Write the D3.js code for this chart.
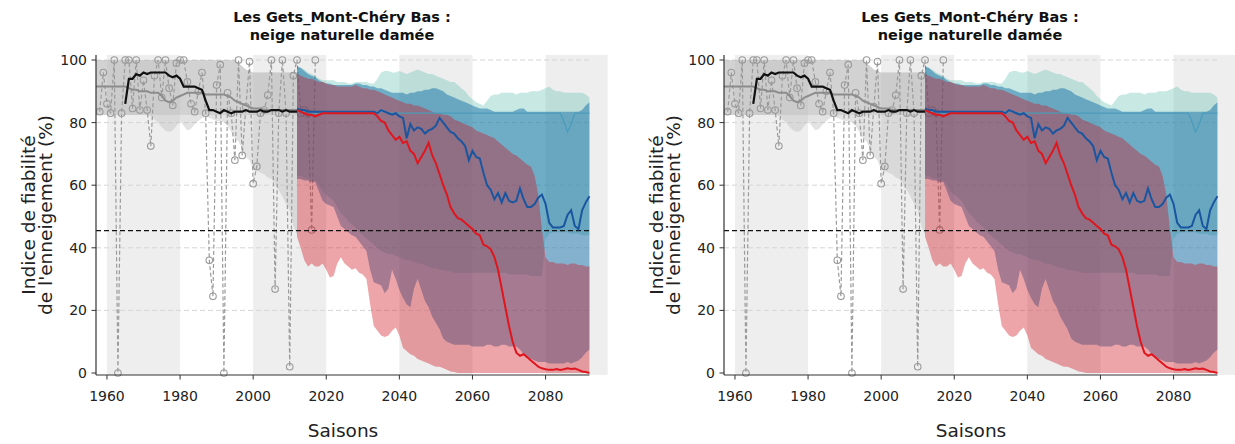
<!DOCTYPE html>
<html><head><meta charset="utf-8">
<script src="https://cdn.jsdelivr.net/npm/d3@7"></script>
<style>body{margin:0;background:#fff}svg{display:block}</style>
</head><body>
<svg id="c" width="1235" height="444"></svg>
<script>
// ---------- texts / ticks ----------
const title1 = "Les Gets_Mont-Chéry Bas :";
const title2 = "neige naturelle damée";
const yLabel1 = "Indice de fiabilité";
const yLabel2 = "de l'enneigement (%)";
const xLabel = "Saisons";
const xTicks = [1960, 1980, 2000, 2020, 2040, 2060, 2080];
const yTicks = [0, 20, 40, 60, 80, 100];
const gridValues = [20, 40, 60, 80, 100];
const threshold = 45.5;
const bandStarts = [1960, 2000, 2040, 2080];
const bandEnds   = [1980, 2020, 2060, 2097];

// ---------- historical (1957-2012) ----------
const histStart = 1957;
const histHi = [100,100,100,100,100,100,100,100,100,100, 100,100,100,100,100,100,100,100,100,100,
  100,100,100,100,100,100,100,100,100,100, 100,100,100,100,100,100,100,100,100,99,
  98,97,96.5,96,96,96,96,96,96,96, 96,96,96,96,96,96];
const histLoA = [82.4,82.4,82.4,82.4,82.4,82.4,82.4,82.4,82.4,82.4, 82.4,82.4,82.4,82.4,82.4,82.4,82.4,82.4,82.4,82.4,
  82.4,82.4,82.4,82.4,82.4,82.4,82.4,82.4,82.4,82.4, 82.4,82.4,82.4,82.4,82.4,82.4,82.4,82.4,82.4,82.4,
  82.4,82.4,82.4,82.4,82.4,82.4,82.4,82.4,82.4,82.4, 82.4,82.4,82.4,82.4,82.4,82.4];
const histLoB = [82.4,82.4,82.4,82.4,82.4,82.4,82.4,82.4,82.4,82.4, 82.4,82.4,82.4,82.4,82.4,82,81,80,78.5,77.5,
  77,77.5,79,80.5,79,77.5,78,79.5,80.5,81.5, 82,81.5,81,80.5,80.5,80,79,77,75,74,
  71.5,69,68,65,64.5,64,63.5,62.5,62,60.5, 58.5,56.5,54,52,47,44];
const histGrey = [91.5,91.5,91.5,91.5,91.5,91.5,91.5,91.5,91.5,91, 90.5,90.5,90,90,90,89.5,89.5,89.5,88.5,87,
  86.5,87,88,88.5,89,89.5,89.5,89.5,89.5,89.5, 89,89,89,89,89,89,88.5,88,87,86.5,
  86,85.5,85,84.5,84.5,84.5,84,84,84,84, 84,84,84,84,84,84];
const blackStart = 1965;
const histBlack = [86,94,94,95.5,95,96,95.5,96,96,96, 96,96,95,94.5,95,94,91.5,91.5,91.5,91.5,
  91,90.5,87,84,84,83.5,83,84,83.5,83, 83.5,83.5,83.5,84,83.5,83.5,83.5,84,83.5,83.5,
  84,84,84,83.5,84,83.5,83.5,83.5];
const obsStart = 1958;
const obsValues = [83.5,96,86,83,100,0,83,100,100,84.5, 100,84,93.5,84,72.5,95,100,88,100,91,
  85.5,99,100,100,93,86,83.5,90,96,83, 36,24.5,92,98.5,0,89.5,83,68,100,69.5,
  85,99.5,60.5,66,83,84,88.8,100,26.8,83, 100,83,2,95,100,83,84,83,45.7,100];

// ---------- projections (2012-2092) ----------
const futStart = 2012;
const tealHi = [97.5,97.5,97,96,95.5,95,94,93.5,93.5,93.5, 93.5,93,93,93,92.5,92.5,93,93,93,93,
  92.5,92.5,94,96,96.5,96.5,96,96,96.5,96, 95.5,96,96.5,97,96.5,96,95.5,95.5,95,94.5,
  94,93.5,93,93,92,91,90,88.5,87.5,86.5, 86,85.5,87,88.5,89,89,89.5,89.5,89.5,89.5,
  89,89.5,89.5,89.5,90,90,90,90.5,91,91.5, 90.5,90,90,89.5,89.5,89.5,89.5,89.5,89.5,89,88];
const tealLo = [63,63,62.5,62,62,61.5,60,58,57,56, 55,53,51,50,48.5,47.5,46.5,45,44,43,
  42,41,40,39,38.5,38,38,37.5,37,36.5, 36,36,35.5,35,35,34.5,34,33.5,33.5,33,
  33,32.5,32.5,32,32,32,32,32,32,32, 32,32,32,32,32,32,32,32,31.5,31.5,
  31.5,31.5,31.5,31.5,31,31,31,31,43,44.5, 45,45,45,45,45,44.5,44.5,44.5,44,44,44];
const tealMed = [84,84,83.5,83.5,83,83,83,83,83,83, 83,83,83,83,83,83,83,83,83,83,
  83,83,83.5,83.5,83.5,83,83,83,83,83, 83,83,83,83,83,83,83,83,83,83,
  83,83,83,83,83,83,83,83,83,83, 83,83,83,83,83,83,83,83,83,83,
  83,83,83,83,83,83,83,83,83,83, 83,83,83,80.5,77,79.5,83,83,83,83,83];
const blueHi = [98,97.5,96.5,95.5,95,94.5,93.5,93,92.5,92.5, 92,92,92,92,92,92,92.5,92.5,92,92,
  91.5,91.5,91,91,90.5,90,89.5,89.5,89.5,89.5, 89,89.5,89.5,90,90,90.5,90.5,91,91,90.5,
  90,89,88.5,88,87.5,87,86.5,86,85.5,85, 84.5,84.5,84.5,84,83.5,83.5,83.5,83.5,83.5,83.5,
  84,84.5,84.5,83.5,83.5,83.5,83.5,83.5,83.5,83.5, 83.5,83.5,83.5,83.5,83.5,83.5,83.5,83.5,84,85.5,86.5];
const blueLo = [62,62,61.5,61.5,61,61,58,55,54,53.5, 53,50,47,46,45,44,43.5,42,40.5,39,
  33,29,28.5,28,25.5,27,33,30,26.5,24, 22,21,27,30,26.5,23,21,18,16,14,
  11,10,9.5,9,9,9,9,9,8.5,8.5, 8.5,8.5,9,9,8.5,8.5,9,9,8.5,8.5,
  8.5,7.5,6,5,4.5,4,3.5,3.5,3.5,3, 3,3,3,3,3.5,3,3.5,4,5,6.5,7.5];
const blueMed = [84.5,84,84,83.5,83.5,83.5,83.5,83.5,83.5,83.5, 83.5,83.5,83.5,83.5,83.5,83.5,83.5,83.5,83.5,83.5,
  83.5,83.5,83,84,83.5,83,82.5,83,82,81.5, 75,79.5,77.5,78.5,78,76.5,77.5,78,79,81.5,
  80,78.5,77,76.5,75,74,72.5,68,71,69, 68.5,64,60,58.5,55.5,57.5,54.5,57.5,55,54.5,
  55,59,55.5,53,53,54,56,57,54,48, 46.5,46.5,46.5,47,50.5,52,47,46,52,54.5,56.5];
const redHi = [95.5,95,94.5,94,94,93.5,93,93,92.5,92, 92,91.5,91.5,91.5,91.5,91.5,92,91.5,91,91,
  90.5,90.5,90,89.5,89,88.5,88,87.5,87,86.5, 86,86,85.5,85.5,85,84.5,84,83.5,83,83,
  82.5,82.5,82,81,80.5,80,79.5,79,78.5,77.5, 77,76.5,76,75.5,75,74,73,72,71,70,
  69.5,68.5,67.5,66.5,66,63,57,46,37,35.5, 35.5,35,35,35,34.5,35,35,34.5,34.5,34,34];
const redLo = [43.5,40,36,34,35,34,34,35,33,30.5, 31,35,37,35,34,33,33.5,32,31.5,30,
  22,15,13.5,12,11.5,12,13.5,14.5,12,8, 7,6,5.5,4.5,4,3.5,3,2.5,2,2,
  1.5,1,0.5,0.3,0,0,0,0,0,0, 0,0,0,0,0,0,0,0,0,0,
  0,0,0,0,0,0,0,0,0,0, 0,0,0,0,0,0,0,0,0,0,0];
const redMed = [84,83.5,83,82.5,82.5,82,82.5,83,83,83, 83,83,83,83,83,83,83,83,83,83,
  83,83,82,80.5,80,77.5,76,74.5,75.5,73.5, 74,71,70,67,69,71,73.5,69.5,67,63.5,
  60,57,53,51,49.5,49,48,47,46,44.5, 44,41,40.5,39.5,37,33,27,21,15,10,
  6.5,5.5,6,5,4,3,2,1.5,1.2,1, 1,1.3,1,1.2,1.5,1.3,1.4,1,0.5,0.3,0];

// ---------- layout ----------
const panelOffsets = [0, 628];
const svg = d3.select("#c");
const FONT = "DejaVu Sans, sans-serif";

function drawPanel(off) {
  const g = svg.append("g").attr("transform", `translate(${off},0)`);
  const x = d3.scaleLinear().domain([1957, 2092]).range([96, 96 + 135 * 3.655]);
  const y = d3.scaleLinear().domain([0, 100]).range([373, 60]);
  const top = 55, bottom = 375, left = x(1957), right = x(2092);

  g.selectAll("rect.band").data(bandStarts).enter().append("rect")
    .attr("x", (d) => x(d)).attr("width", (d, i) => x(bandEnds[i]) - x(d))
    .attr("y", top).attr("height", bottom - top).attr("fill", "#eeeeee");

  g.selectAll("line.grid").data(gridValues).enter().append("line")
    .attr("x1", left).attr("x2", right).attr("y1", (d) => y(d)).attr("y2", (d) => y(d))
    .attr("stroke", "#d6d6d6").attr("stroke-width", 1).attr("stroke-dasharray", "5,3");

  const histYears = histHi.map((_, i) => histStart + i);
  const area = (yrs, lo, hi) => d3.area().x((d, i) => x(yrs[i])).y0((d, i) => y(lo[i])).y1((d, i) => y(hi[i]))(yrs);
  const line = (yrs, vals) => d3.line().x((d, i) => x(yrs[i])).y((d, i) => y(vals[i]))(yrs);

  g.append("path").attr("d", area(histYears, histLoA, histHi)).attr("fill", "#b8b8b8").attr("fill-opacity", 0.4);
  g.append("path").attr("d", area(histYears, histLoB, histHi)).attr("fill", "#b8b8b8").attr("fill-opacity", 0.4);

  const obsYears = obsValues.map((_, i) => obsStart + i);
  g.append("path").attr("d", line(obsYears, obsValues)).attr("fill", "none")
    .attr("stroke", "#9a9a9a").attr("stroke-width", 1.2).attr("stroke-dasharray", "4,2.5");
  g.selectAll("circle.obs").data(obsValues).enter().append("circle")
    .attr("cx", (d, i) => x(obsYears[i])).attr("cy", (d) => y(d)).attr("r", 3.3)
    .attr("fill", "none").attr("stroke", "#9a9a9a").attr("stroke-width", 1.1);

  g.append("path").attr("d", line(histYears, histGrey)).attr("fill", "none")
    .attr("stroke", "#8c8c8c").attr("stroke-width", 2);
  const blackYears = histBlack.map((_, i) => blackStart + i);
  g.append("path").attr("d", line(blackYears, histBlack)).attr("fill", "none")
    .attr("stroke", "#111").attr("stroke-width", 2.2);

  const futYears = redMed.map((_, i) => futStart + i);
  g.append("path").attr("d", area(futYears, tealLo, tealHi)).attr("fill", "rgb(97,189,177)").attr("fill-opacity", 0.35);
  g.append("path").attr("d", area(futYears, blueLo, blueHi)).attr("fill", "rgb(2,102,164)").attr("fill-opacity", 0.45);
  g.append("path").attr("d", area(futYears, redLo, redHi)).attr("fill", "rgb(208,18,32)").attr("fill-opacity", 0.38);

  g.append("line").attr("x1", left).attr("x2", right).attr("y1", y(threshold)).attr("y2", y(threshold))
    .attr("stroke", "#111").attr("stroke-width", 1.3).attr("stroke-dasharray", "5,3");

  g.append("path").attr("d", line(futYears, tealMed)).attr("fill", "none")
    .attr("stroke", "#4a9cba").attr("stroke-width", 1.3);
  g.append("path").attr("d", line(futYears, blueMed)).attr("fill", "none")
    .attr("stroke", "#1a56a0").attr("stroke-width", 2);
  g.append("path").attr("d", line(futYears, redMed)).attr("fill", "none")
    .attr("stroke", "#e0161e").attr("stroke-width", 2);

  g.append("line").attr("x1", left).attr("x2", left).attr("y1", top).attr("y2", bottom)
    .attr("stroke", "#333").attr("stroke-width", 1.2);
  g.append("line").attr("x1", left).attr("x2", right).attr("y1", bottom).attr("y2", bottom)
    .attr("stroke", "#333").attr("stroke-width", 1.2);
  g.selectAll("line.xt").data(xTicks).enter().append("line")
    .attr("x1", (d) => x(d)).attr("x2", (d) => x(d)).attr("y1", bottom).attr("y2", bottom + 4.5)
    .attr("stroke", "#333").attr("stroke-width", 1);
  g.selectAll("text.xt").data(xTicks).enter().append("text")
    .attr("x", (d) => x(d)).attr("y", 401).attr("text-anchor", "middle")
    .attr("font-family", FONT).attr("font-size", 14).attr("fill", "#222").text((d) => d);
  g.selectAll("line.yt").data(yTicks).enter().append("line")
    .attr("x1", left - 4.5).attr("x2", left).attr("y1", (d) => y(d)).attr("y2", (d) => y(d))
    .attr("stroke", "#333").attr("stroke-width", 1);
  g.selectAll("text.yt").data(yTicks).enter().append("text")
    .attr("x", 87).attr("y", (d) => y(d) + 5).attr("text-anchor", "end")
    .attr("font-family", FONT).attr("font-size", 14).attr("fill", "#222").text((d) => d);

  g.append("text").attr("x", 342).attr("y", 22).attr("text-anchor", "middle")
    .attr("font-family", FONT).attr("font-weight", "bold").attr("font-size", 14.5).attr("fill", "#111").text(title1);
  g.append("text").attr("x", 342).attr("y", 39.5).attr("text-anchor", "middle")
    .attr("font-family", FONT).attr("font-weight", "bold").attr("font-size", 14.5).attr("fill", "#111").text(title2);
  g.append("text").attr("x", 343).attr("y", 437).attr("text-anchor", "middle")
    .attr("font-family", FONT).attr("font-size", 18.5).attr("fill", "#222").text(xLabel);
  g.append("text").attr("transform", "translate(35,215) rotate(-90)").attr("text-anchor", "middle")
    .attr("font-family", FONT).attr("font-size", 18.5).attr("fill", "#222").text(yLabel1);
  g.append("text").attr("transform", "translate(52,215) rotate(-90)").attr("text-anchor", "middle")
    .attr("font-family", FONT).attr("font-size", 18.5).attr("fill", "#222").text(yLabel2);
}
panelOffsets.forEach(drawPanel);
</script>
</body></html>
